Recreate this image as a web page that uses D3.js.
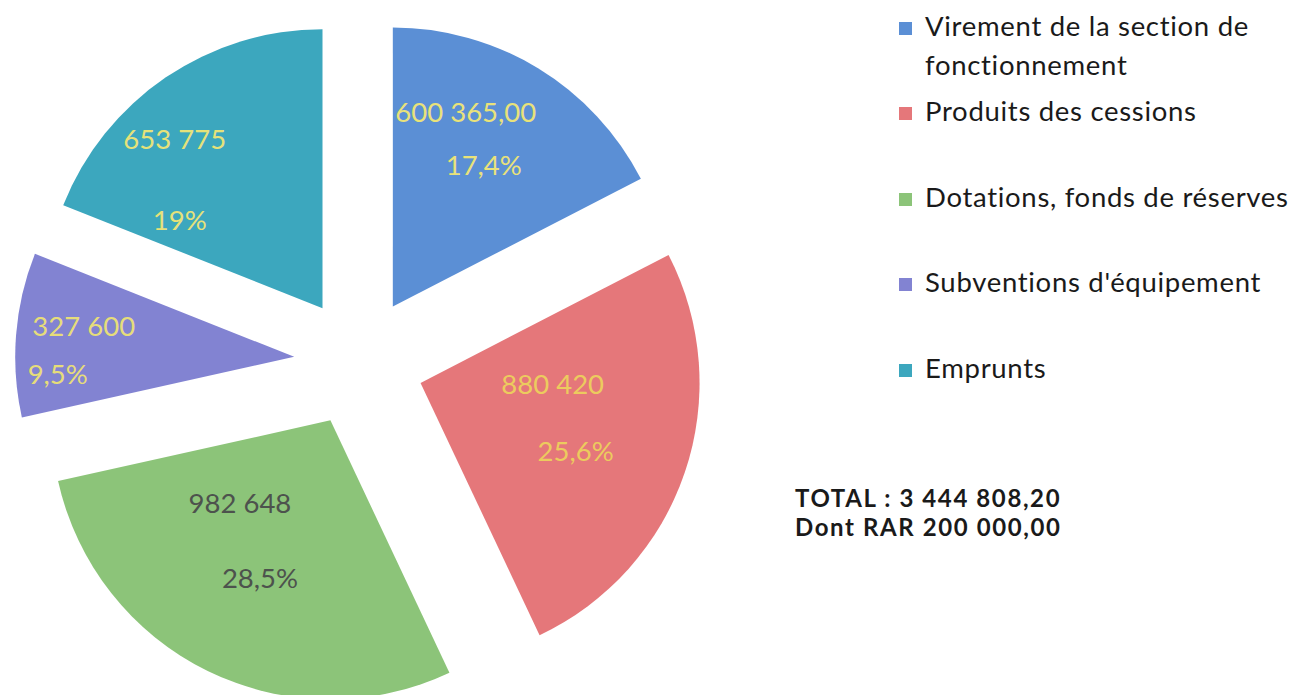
<!DOCTYPE html>
<html><head><meta charset="utf-8">
<script src="https://cdn.jsdelivr.net/npm/d3@7"></script>
<style>
html,body{margin:0;padding:0;background:#fff;}
svg{display:block;}
</style></head>
<body>
<svg id="chart" width="1298" height="695"></svg>
<script>
// ---- data ----
const categories = ["Virement de la section de fonctionnement","Produits des cessions","Dotations, fonds de réserves","Subventions d'équipement","Emprunts"];
const legendLines = [["Virement de la section de","fonctionnement"],["Produits des cessions"],["Dotations, fonds de réserves"],["Subventions d'équipement"],["Emprunts"]];
const values = [600365.00, 880420, 982648, 327600, 653775];
const valueLabels = ["600 365,00","880 420","982 648","327 600","653 775"];
const percentLabels = ["17,4%","25,6%","28,5%","9,5%","19%"];
const totalLines = ["TOTAL : 3 444 808,20","Dont RAR 200 000,00"];

// ---- styles / layout ----
const colors = ["#5b8fd5","#e5777a","#8cc479","#8283d2","#3ca7be"];
const labelColors = ["#e9e27a","#eccb5e","#4d524d","#e6dd7a","#e6e27a"];
const valueNudge = [[-14,-52],[-26,-52],[-17,-67],[-44,-17],[-54,-31]];
const pctNudge   = [[4,1],[-3,15],[3,8],[-70,31],[-49,50]];
const cx = 359, cy = 362, R = 279, explode = 65;

const svg = d3.select("#chart");
const pie = d3.pie().sort(null).value(d => d)(values);
const arc = d3.arc().innerRadius(0).outerRadius(R);
const labelArc = d3.arc().innerRadius(167).outerRadius(167);

const g = svg.append("g").attr("transform", `translate(${cx},${cy})`);
const slices = g.selectAll("g.slice").data(pie).join("g")
  .attr("class","slice")
  .attr("transform", d => {
    const m = (d.startAngle + d.endAngle)/2;
    return `translate(${explode*Math.sin(m)},${-explode*Math.cos(m)})`;
  });
slices.append("path").attr("d", arc).attr("fill", (d,i) => colors[i]);

const fontLbl = "Lato, 'Open Sans', sans-serif";
slices.append("text")
  .attr("x", (d,i) => labelArc.centroid(d)[0] + valueNudge[i][0])
  .attr("y", (d,i) => labelArc.centroid(d)[1] + valueNudge[i][1])
  .attr("dy","0.35em")
  .attr("text-anchor","middle")
  .attr("font-family", fontLbl).attr("font-size", 27.5)
  .attr("fill", (d,i) => labelColors[i])
  .text((d,i) => valueLabels[i]);
slices.append("text")
  .attr("x", (d,i) => labelArc.centroid(d)[0] + pctNudge[i][0])
  .attr("y", (d,i) => labelArc.centroid(d)[1] + pctNudge[i][1])
  .attr("dy","0.35em")
  .attr("text-anchor","middle")
  .attr("font-family", fontLbl).attr("font-size", 27.5)
  .attr("fill", (d,i) => labelColors[i])
  .text((d,i) => percentLabels[i]);

// ---- legend ----
const legendY = [36, 121, 207, 292, 378];
const legend = svg.append("g");
categories.forEach((c,i) => {
  const lg = legend.append("g").attr("transform", `translate(899,${legendY[i]})`);
  lg.append("rect").attr("x",0).attr("y",-14).attr("width",13).attr("height",13).attr("fill",colors[i]);
  legendLines[i].forEach((t,j) => {
    lg.append("text").attr("x",26).attr("y", j*39)
      .attr("font-family", fontLbl).attr("font-size", 27.5).attr("letter-spacing", 0.7)
      .attr("fill","#1a1a1a")
      .text(t);
  });
});

// ---- total ----
const total = svg.append("text").attr("x",795).attr("y",507)
  .attr("font-family", fontLbl).attr("font-weight","bold").attr("font-size", 24)
  .attr("letter-spacing", 1.6).attr("fill","#1a1a1a");
totalLines.forEach((t,j) => {
  total.append("tspan").attr("x",795).attr("dy", j === 0 ? 0 : 29).text(t);
});
</script>
</body></html>
